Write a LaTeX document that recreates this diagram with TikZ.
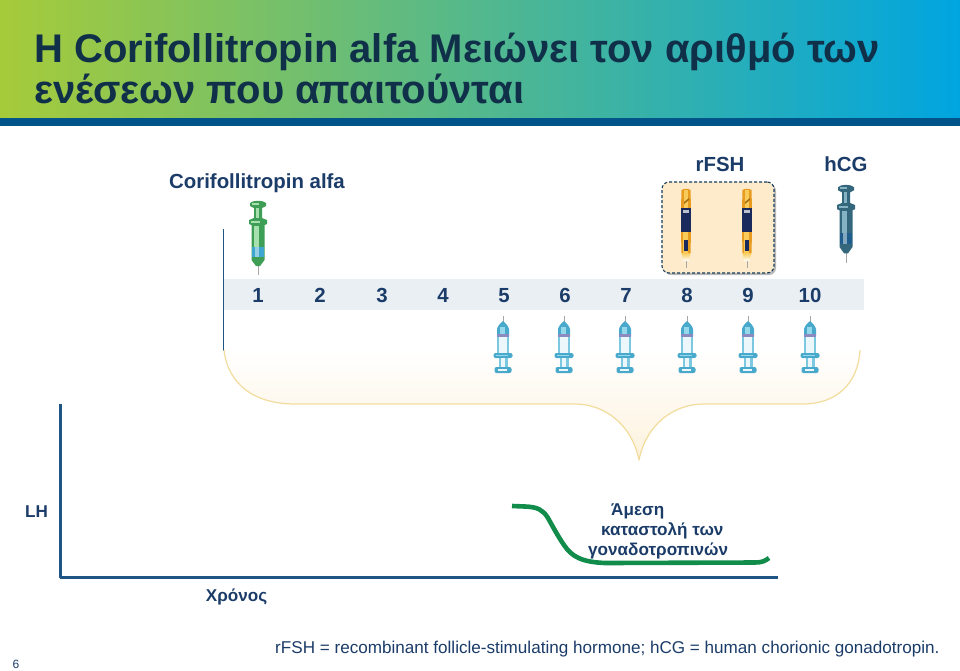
\documentclass[tikz,border=0pt]{standalone}
\usepackage{fontspec}
\setmainfont{Liberation Sans}
\definecolor{titlecol}{HTML}{10304A}
\definecolor{navy}{HTML}{1B3C69}
\definecolor{axisblue}{HTML}{1F5585}
\definecolor{bandblue}{HTML}{01548A}
\definecolor{strip}{HTML}{EAEFF4}
\definecolor{cream}{HTML}{FDF2DD}
\definecolor{creamedge}{HTML}{F2DC9C}
\definecolor{lhgreen}{HTML}{118C4A}
\definecolor{tleft}{HTML}{A6CB3A}
\definecolor{tmid}{HTML}{70AE82}
\definecolor{tright}{HTML}{00A5E0}
\definecolor{penbox}{HTML}{FDEBCB}
\definecolor{sgdark}{HTML}{3F9E55}
\definecolor{sglight}{HTML}{A5E0AE}
\definecolor{sgband}{HTML}{3FA6D0}
\definecolor{shdark}{HTML}{34667C}
\definecolor{shlight}{HTML}{86B3C4}
\definecolor{shband}{HTML}{1F5E8C}
\definecolor{penor}{HTML}{E79C1F}
\definecolor{penorl}{HTML}{F9CB5B}
\definecolor{pennavy}{HTML}{1B2A5C}
\definecolor{lsblue}{HTML}{49A9CC}
\definecolor{lsbluel}{HTML}{95D8EA}
\definecolor{lsbar}{HTML}{7CC8E0}
\tikzset{
  titletext/.style={anchor=base west,text=titlecol,font=\bfseries\fontsize{40}{44}\selectfont,inner sep=0},
  lab/.style={anchor=base,text=navy,font=\bfseries\fontsize{20.4}{24}\selectfont,inner sep=0},
  daynum/.style={text=navy,font=\bfseries\fontsize{20.4}{24}\selectfont,inner sep=0},
  small/.style={anchor=base,text=navy,font=\bfseries\fontsize{17.1}{20}\selectfont,inner sep=0},
  foot/.style={anchor=base west,text=navy,font=\fontsize{17.1}{20}\selectfont,inner sep=0},
  pics/bigsyringe/.style n args={3}{code={
    \draw[gray!70,line width=.9pt] (0,64) -- (0,75);
    \fill[#1]
      (-8,3) .. controls (-5,0) and (5,0) .. (8,3) -- (8,6) -- (4,8) -- (4,18) -- (9,20) -- (9,24) -- (6.5,25)
      -- (6.5,60) -- (2,66) -- (-2,66) -- (-6.5,60) -- (-6.5,25) -- (-9,24) -- (-9,20) -- (-4,18) -- (-4,8) -- (-8,6) -- cycle;
    \fill[#2] (-6,2.5) rectangle (1,5);
    \fill[#2] (-2.5,8) rectangle (0.5,18);
    \fill[#2] (-7,20.5) rectangle (2,22.5);
    \fill[#2] (-4.5,26) rectangle (1,47);
    \fill[#3] (-6,47) rectangle (6,57);
    \fill[#3!55!white] (-3.5,47) rectangle (1,57);
  }},
  pics/pen/.style={code={
    \draw[gray!70,line width=.9pt] (0,70) -- (0,79);
    \fill[penor] (-4.5,1) .. controls (-3,-.5) and (3,-.5) .. (4.5,1) -- (5,19) -- (-5,19) -- cycle;
    \fill[penorl] (-2.5,1) rectangle (1.5,19);
    \fill[penor!70!black] (-2,13) -- (3,9) -- (3,11) -- (-2,15) -- cycle;
    \fill[pennavy] (-5,19) rectangle (5,43);
    \fill[white!70!pennavy] (-3,21) rectangle (3,24);
    \fill[penor] (-5,43) -- (5,43) -- (4.5,64) -- (-4.5,64) -- cycle;
    \fill[penorl] (-3,43) rectangle (2,64);
    \fill[pennavy] (-1.6,51) rectangle (1.6,62);
    \shade[top color=penorl,bottom color=white] (-4.5,64) -- (4.5,64) -- (3,72) -- (-3,72) -- cycle;
  }},
  pics/lilsyringe/.style={code={
    \draw[gray!70,line width=.9pt] (0,0) -- (0,9);
    \fill[lsblue] (-6,20) -- (-6,13) .. controls (-5,9) and (-2,7) .. (0,5) .. controls (2,7) and (5,9) .. (6,13) -- (6,20) -- cycle;
    \fill[lsbluel] (-3.5,11) rectangle (1.5,18);
    \fill[gray!70!blue!70] (-6,18) rectangle (6,20.5);
    \fill[lsbar] (-6,20.5) rectangle (6,37);
    \fill[white!85!lsbar] (-4,20.5) rectangle (3.5,37);
    \fill[lsblue,rounded corners=2pt] (-9.5,37) rectangle (9.5,42);
    \fill[lsbluel] (-7,38.5) rectangle (5,40);
    \fill[lsbar] (-4.5,42) rectangle (4.5,51);
    \fill[white!85!lsbar] (-2.5,42) rectangle (2,51);
    \fill[lsblue,rounded corners=2pt] (-8.5,51) rectangle (8.5,57);
    \fill[white!85!lsbar] (-5.5,52.5) rectangle (4,55);
  }}
}
\begin{document}
\begin{tikzpicture}[x=1pt,y=-1pt,line join=round]
\useasboundingbox (0,0) rectangle (960,670);
\fill[white] (0,0) rectangle (960,670);
% header
\shade[left color=tleft,middle color=tmid,right color=tright] (0,0) rectangle (960,118);
\fill[bandblue] (0,118) rectangle (960,126);
\node[titletext] (t1) at (34,62.5) {Η Corifollitropin alfa Μειώνει τον αριθμό των};
\node[titletext] (t2) at (34,103.5) {ενέσεων που απαιτούνται};
% labels
\node[lab] (corifo) at (257,188) {Corifollitropin alfa};
\node[lab] (rfsh) at (720,171) {rFSH};
\node[lab] (hcg) at (846,171) {hCG};
% strip
\fill[strip] (224,279) rectangle (864,310);
\foreach \n/\x in {1/258,2/320,3/382,4/443,5/504,6/565,7/626,8/687,9/748,10/810}
  \node[daynum] (d\n) at (\x,295.3) {\n};
% left rule
\coordinate (ruleA) at (223.5,229);
\coordinate (ruleB) at (223.5,351);
\draw[axisblue,line width=1.6pt] (ruleA) -- (ruleB);
% brace
\shade[top color=white,bottom color=cream]
  (224,350) .. controls (228,385) and (255,404) .. (295,404)
  -- (575,404) .. controls (605,404) and (632,425) .. (639,460)
  .. controls (646,425) and (673,404) .. (704,404)
  -- (803,404) .. controls (835,404) and (858,385) .. (860,350) -- cycle;
\draw[creamedge,line width=1.2pt]
  (224,350) .. controls (228,385) and (255,404) .. (295,404)
  -- (575,404) .. controls (605,404) and (632,425) .. (639,460)
  .. controls (646,425) and (673,404) .. (704,404)
  -- (803,404) .. controls (835,404) and (858,385) .. (860,350);
% pen box
\fill[gray!55,rounded corners=7pt] (664,184) rectangle (776,275);
\node[draw=axisblue!70!black,dash pattern=on 3pt off 2pt,line width=1.1pt,fill=penbox,rounded corners=7pt,minimum width=112pt,minimum height=91pt,inner sep=0] (penframe) at (718,227.5) {};
% devices
\pic at (258,200) {bigsyringe={sgdark}{sglight}{sgband}};
\pic at (686,189) {pen};
\pic at (747,189) {pen};
\pic[yscale=1.05] at (846,184) {bigsyringe={shdark}{shlight}{shband}};
\foreach \x in {503,564,625,687,748,810}
  \pic at (\x,316) {lilsyringe};
% LH panel
\coordinate (yTop) at (60.5,404);
\coordinate (origin) at (60.5,577.5);
\coordinate (xEnd) at (778,577.5);
\draw[axisblue,line width=2.4pt] (yTop) -- (origin) -- (xEnd);
\node[small] (lh) at (36.5,517.3) {LH};
\node[small] (time) at (236.5,601.7) {Χρόνος};
\draw[lhgreen,line width=4.6pt] (512,506) -- (525,506.5) .. controls (538,507) and (543,510) .. (548,518)
  .. controls (553,527) and (559,538) .. (564,545) .. controls (572,557) and (582,562) .. (605,563)
  -- (755,562.5) .. controls (762,562.5) and (765,561) .. (769,558);
\node[small,anchor=base west] (g1) at (611,515) {Άμεση};
\node[small,anchor=base west] (g2) at (601,535) {καταστολή των};
\node[small,anchor=base west] (g3) at (588,555) {γοναδοτροπινών};
% footer
\node[foot] (fn) at (275,653.5) {rFSH = recombinant follicle-stimulating hormone; hCG = human chorionic gonadotropin.};
\node[anchor=base,text=navy,font=\fontsize{12}{14}\selectfont,inner sep=0] (pg) at (16,668) {6};
\end{tikzpicture}
\end{document}
